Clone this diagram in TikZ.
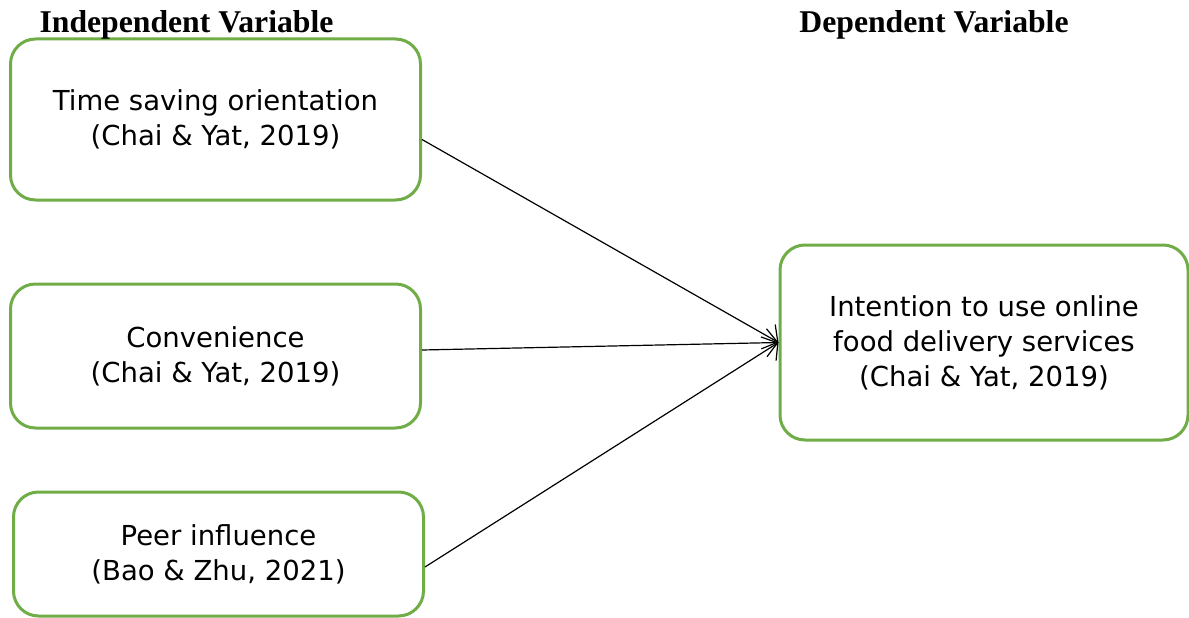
\documentclass[tikz,border=0pt]{standalone}
\usepackage{fontspec}
\setmainfont{Liberation Serif}
\newfontfamily\boxfont{DejaVu Sans}
\usepackage{tikz}
\usetikzlibrary{positioning, arrows.meta}
\definecolor{boxgreen}{RGB}{112,173,71}
\tikzset{
      var box/.style={
		draw=boxgreen,
		line width=3pt,
		rounded corners=25pt,
		align=center,
		font=\boxfont\fontsize{27.5}{35}\selectfont,
		minimum width=410pt,
		minimum height={#1},
	  },
  		heading/.style={
    	anchor=base,
		font=\bfseries\fontsize{31.7}{36}\selectfont,
      },
  		link/.style={
		line width=1.2pt,
		-{Straight Barb[length=11pt,width=28pt,line width=1.2pt]},
	  }
  	}

\begin{document}
\begin{tikzpicture}[x=1pt, y=-1pt]
    \useasboundingbox (0,0) rectangle (1189,618);
    \node [var box=161pt] (time) at (215.5,119.5) {Time saving orientation\\(Chai \& Yat, 2019)};
    \node [var box=144pt, below=81pt of time] (conv) {Convenience\\(Chai \& Yat, 2019)};
    \node [var box=124pt, below=61pt of conv, xshift=3pt] (peer) {Peer influence\\(Bao \& Zhu, 2021)};
    \node [var box=195pt, minimum width=408pt] (intent) at (984,342.5) {Intention to use online\\food delivery services\\(Chai \& Yat, 2019)};
    \node [heading] (indep) at (186.5,33) {Independent Variable};
    \node [heading] (dep) at (934,33) {Dependent Variable};
    \draw [link] ([yshift=-20pt]time.east) -- (intent.west);
    \draw [link] ([yshift=6pt]conv.east) -- (intent.west);
    \draw [link] ([yshift=-13pt]peer.east) -- (intent.west);
  \end{tikzpicture}
\end{document}
